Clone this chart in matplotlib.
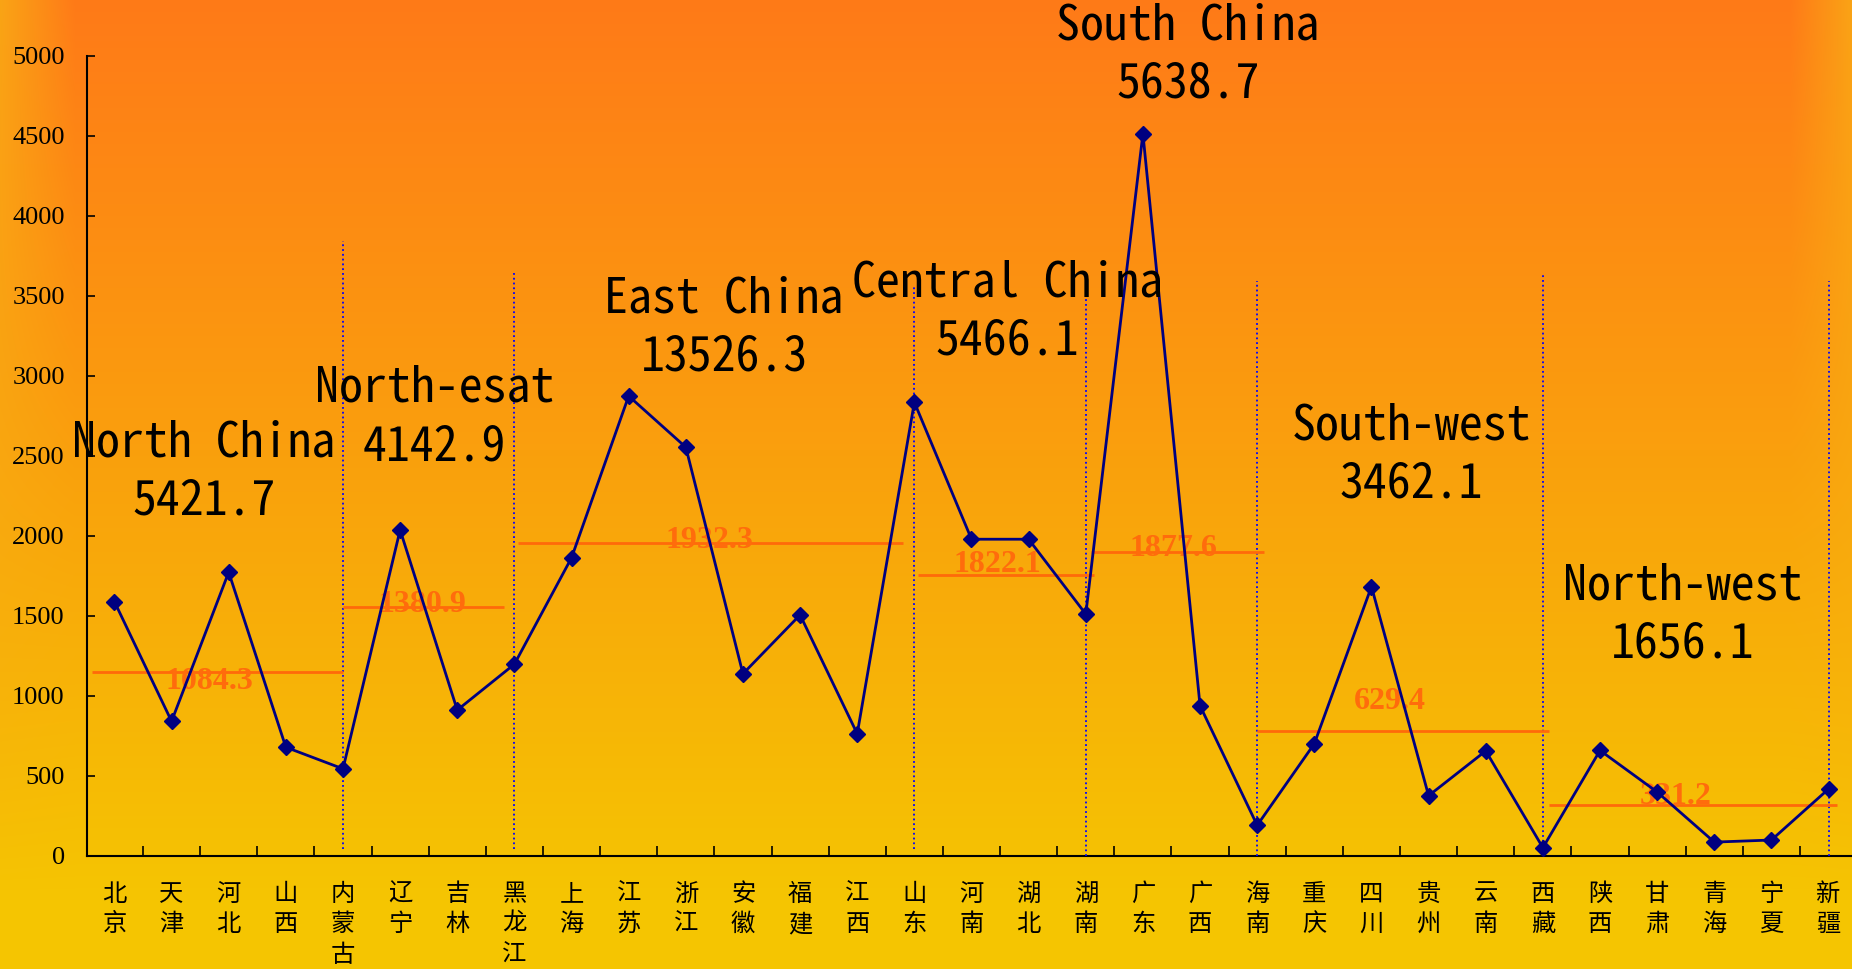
import numpy as np
import matplotlib.pyplot as plt

plt.rcParams['font.family'] = ['Noto Sans CJK SC', 'DejaVu Sans']

# provinces (x categories) and values
provinces = ['北京', '天津', '河北', '山西', '内蒙古', '辽宁', '吉林', '黑龙江',
             '上海', '江苏', '浙江', '安徽', '福建', '江西', '山东',
             '河南', '湖北', '湖南', '广东', '广西', '海南',
             '重庆', '四川', '贵州', '云南', '西藏',
             '陕西', '甘肃', '青海', '宁夏', '新疆']
values = [1588, 840, 1772, 678, 543, 2036, 910, 1197,
          1862, 2873, 2553, 1137, 1505, 762, 2834,
          1978, 1978, 1510, 4512, 937, 190,
          700, 1682, 375, 655, 50,
          658, 398, 85, 98, 417]

# regions
region_names = ['North China', 'North-esat', 'East China', 'Central China',
                'South China', 'South-west', 'North-west']
region_totals = ['5421.7', '4142.9', '13526.3', '5466.1', '5638.7', '3462.1', '1656.1']
region_avg_labels = ['1084.3', '1380.9', '1932.3', '1822.1', '1877.6', '629.4', '331.2']
region_avg_levels = [1150, 1552, 1952, 1752, 1898, 782, 320]

# region borders (index of province where the dotted line is drawn) and line tops
border_idx = [4, 7, 14, 17, 20, 25, 30]
border_top = [3840, 3640, 3570, 3600, 3590, 3630, 3590]
border_bottom = [40, 40, 40, 0, 0, 0, 0]

# extent of each average line (in category units)
avg_start = [-0.4, 4.0, 7.07, 14.07, 17.1, 20.0, 25.1]
avg_end = [4.0, 6.82, 13.8, 17.15, 20.12, 25.1, 30.15]

# label placement
name_x = [1.57, 5.60, 10.67, 15.63, 18.79, 22.70, 27.45]
name_y = [2398, 2739, 3300, 3399, 5005, 2503, 1502]
avg_x = [1.67, 5.39, 10.42, 15.46, 18.54, 22.33, 27.33]
avg_y = [1089, 1569, 1967, 1820, 1923, 964, 367]

W, H = 1852, 969
fig = plt.figure(figsize=(W / 100, H / 100), dpi=100)

# background gradient
bg = fig.add_axes([0, 0, 1, 1], zorder=-10)
orange = np.array([255, 122, 24]) / 255
yellow = np.array([245, 197, 2]) / 255
edge = np.array([248, 178, 20]) / 255
yy, xx = np.mgrid[0:H, 0:W]
t = np.clip(yy / 900.0, 0, 1)[..., None]
img = orange + (yellow - orange) * t
wl = np.clip(1 - xx / 75.0, 0, 1)
wr = np.clip((xx - 1790) / 62.0, 0, 1)
w = (np.maximum(wl, wr) * 0.75)[..., None]
img = img + (edge - img) * w * (1 - t)
bg.imshow(img, aspect='auto', extent=[0, 1, 0, 1])
bg.axis('off')

ax = fig.add_axes([87 / W, 113.3 / H, 1 - 87 / W, 800 / H])
ax.set_facecolor('none')
x = np.arange(len(provinces))

ax.plot(x, values, color='#000080', lw=2, marker='D', markersize=8, zorder=5)

for i in range(len(border_idx)):
    ax.vlines(border_idx[i], border_bottom[i], border_top[i], colors='#0000ff',
              linestyles=':', lw=1.3, zorder=3)
    ax.hlines(region_avg_levels[i], avg_start[i], avg_end[i], colors='#ff6a0a',
              lw=2, zorder=4)
    ax.text(avg_x[i], avg_y[i], region_avg_labels[i], ha='center', va='center',
            fontsize=23, fontweight='bold', color='#ff6c0c',
            family=['Liberation Serif'], zorder=4)
    ax.text(name_x[i], name_y[i], region_names[i] + '\n' + region_totals[i],
            ha='center', va='center', multialignment='center', fontsize=34.5,
            linespacing=1.3, color='black', zorder=6,
            family=['Noto Sans Mono CJK SC', 'Liberation Mono'])

ax.set_xlim(-0.48, 30.41)
ax.set_ylim(0, 5000)
ax.set_yticks(np.arange(0, 5001, 500))
ax.tick_params(axis='y', direction='in', length=6, width=1.2, pad=16,
               labelsize=19)
for lab in ax.get_yticklabels():
    lab.set_family(['Liberation Serif'])

ax.set_xticks(x)
ax.set_xticklabels(['\n'.join(p) for p in provinces], fontsize=17.5,
                   linespacing=1.22, va='top')
ax.set_xticks(x[:-1] + 0.5, minor=True)
ax.tick_params(axis='x', which='major', length=0, pad=18)
ax.tick_params(axis='x', which='minor', direction='in', length=7, width=1.2)

for s in ['top', 'right']:
    ax.spines[s].set_visible(False)
ax.spines['left'].set_linewidth(1.5)
ax.spines['bottom'].set_linewidth(1.5)

fig.savefig('out.png', dpi=100)
